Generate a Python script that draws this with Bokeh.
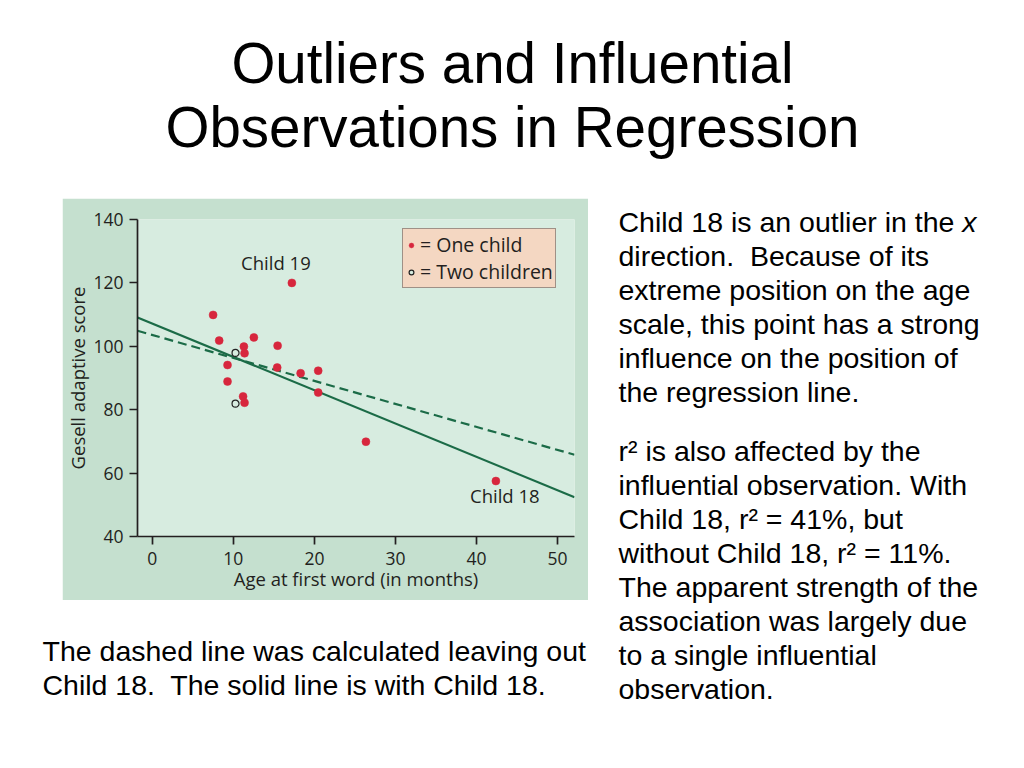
from bokeh.plotting import figure
from bokeh.models import Range1d, Legend, LegendItem, Spacer
from bokeh.layouts import column, row
from bokeh.core.properties import value
from bokeh.embed import file_html
from bokeh.resources import INLINE

# ---------------- data ----------------
ages_one = [7.5, 8.25, 9.28, 9.28, 11.3, 11.38, 11.2, 11.38, 12.53, 15.46, 15.41,
            17.22, 18.3, 20.47, 20.47, 26.36, 42.4]
scores_one = [109.9, 101.8, 94.1, 88.9, 99.9, 97.8, 84.2, 82.2, 102.8, 100.2, 93.3,
              120.0, 91.5, 92.3, 85.4, 69.9, 57.5]
ages_two = [10.27, 10.27]
scores_two = [97.9, 81.9]

line_x = [-1.83, 52.1]
solid_y = [109.1, 52.4]     # with Child 18
dashed_y = [104.9, 65.8]    # without Child 18

x_ticks = [0, 10, 20, 30, 40, 50]
y_ticks = [40, 60, 80, 100, 120, 140]

callout_x = [15.25, 43.5]
callout_y = [124.1, 50.7]
callout_text = ["Child 19", "Child 18"]

title_lines = ["Outliers and Influential", "Observations in Regression"]
right_para1 = ["Child 18 is an outlier in the ", "direction.\u00a0 Because of its",
               "extreme position on the age", "scale, this point has a strong",
               "influence on the position of", "the regression line."]
right_para2 = ["r\u00b2 is also affected by the", "influential observation. With",
               "Child 18, r\u00b2 = 41%, but", "without Child 18, r\u00b2 = 11%.",
               "The apparent strength of the", "association was largely due",
               "to a single influential", "observation."]
bottom_lines = ["The dashed line was calculated leaving out",
                "Child 18.\u00a0 The solid line is with Child 18."]

# ---------------- styles ----------------
SLIDE_FONT = "Liberation Sans"
CHART_FONT = "Open Sans"
OUTER = "#c5e0cf"
INNER = "#d7ece0"
RED = "#d7263d"
GREEN = "#1b6b47"
INK = "#231f20"
BASE_FIX = 0.4   # baseline correction (fraction of font size)


def text_fig(x0, x1, y0, y1):
    f = figure(width=int(x1 - x0), height=int(y1 - y0),
               x_range=Range1d(x0, x1), y_range=Range1d(y1, y0),
               x_axis_type=None, y_axis_type=None,
               toolbar_location=None, output_backend="svg", min_border=0)
    f.grid.visible = False
    f.outline_line_color = None
    f.background_fill_color = "white"
    f.border_fill_color = "white"
    return f


# ---- title ----
title_fig = text_fig(0, 1016, 0, 198)
title_fig.text(x=[512, 512], y=[86, 150], text=title_lines,
               text_font=value(SLIDE_FONT), text_font_size=value("56.5px"),
               text_align="center", text_baseline="alphabetic", text_color="black",
               y_offset=-BASE_FIX * 56.5)

# ---- chart ----
p = figure(width=526, height=402, x_range=Range1d(line_x[0], line_x[1]),
           y_range=Range1d(40, 140), toolbar_location=None, output_backend="svg",
           min_border_left=75, min_border_right=14, min_border_top=21,
           min_border_bottom=64)
p.grid.visible = False
p.outline_line_color = None
p.background_fill_color = INNER
p.border_fill_color = OUTER

p.line(line_x, dashed_y, line_color=GREEN, line_width=2.2, line_dash="9 5")
p.line(line_x, solid_y, line_color=GREEN, line_width=2.2)
r_one = p.scatter(ages_one, scores_one, size=8, fill_color=RED, line_color=RED,
                  line_width=0.5)
r_two = p.scatter(ages_two, scores_two, size=7, fill_color=INNER,
                  line_color="#222222", line_width=1.2)

p.text(x=callout_x, y=callout_y, text=callout_text, text_font=value(CHART_FONT),
       text_font_size=value("18.5px"), text_align="center",
       text_baseline="alphabetic", text_color=INK, y_offset=-BASE_FIX * 18.5)

for ax in (p.xaxis[0], p.yaxis[0]):
    ax.axis_line_color = INK
    ax.axis_line_width = 1.7
    ax.major_tick_line_color = INK
    ax.major_tick_line_width = 1.7
    ax.major_tick_out = 8
    ax.major_tick_in = 0
    ax.minor_tick_out = 0
    ax.minor_tick_in = 0
    ax.major_label_text_font = CHART_FONT
    ax.major_label_text_font_size = "17.5px"
    ax.major_label_text_color = INK
    ax.axis_label_text_font = CHART_FONT
    ax.axis_label_text_font_size = "18.5px"
    ax.axis_label_text_font_style = "normal"
    ax.axis_label_text_color = INK

p.xaxis.ticker = x_ticks
p.yaxis.ticker = y_ticks
p.xaxis.axis_label = "Age at first word (in months)"
p.yaxis.axis_label = "Gesell adaptive score"
p.xaxis.major_label_standoff = 7
p.xaxis.axis_label_standoff = -2
p.yaxis.major_label_standoff = 6
p.yaxis.axis_label_standoff = 0

legend = Legend(items=[LegendItem(label="= One child", renderers=[r_one]),
                       LegendItem(label="= Two children", renderers=[r_two])],
                location=(265, 248), orientation="vertical",
                padding=2, spacing=0, margin=0,
                glyph_width=12, glyph_height=20, label_height=20,
                label_standoff=3,
                label_text_font=CHART_FONT, label_text_font_size="19.5px",
                label_text_color=INK,
                border_line_color="#4a4a4a", border_line_width=1.5,
                background_fill_color="#f4d7c2", background_fill_alpha=1.0)
p.add_layout(legend)

# ---- right text ----
right_fig = text_fig(588, 1016, 198, 760)
y1 = [233 + 33.9 * i for i in range(len(right_para1))]
y2 = [462 + 34.0 * i for i in range(len(right_para2))]
right_fig.text(x=[618] * (len(right_para1) + len(right_para2)), y=y1 + y2,
               text=right_para1 + right_para2,
               text_font=value(SLIDE_FONT), text_font_size=value("28.5px"),
               text_align="left", text_baseline="alphabetic", text_color="black",
               y_offset=-BASE_FIX * 28.5)
right_fig.text(x=[961.7], y=[y1[0]], text=["x"], text_font=value(SLIDE_FONT),
               text_font_size=value("28.5px"), text_font_style="italic",
               text_align="left", text_baseline="alphabetic", text_color="black",
               y_offset=-BASE_FIX * 28.5)

# ---- bottom-left text ----
bottom_fig = text_fig(0, 588, 600, 760)
bottom_fig.text(x=[42, 42], y=[662, 696], text=bottom_lines,
                text_font=value(SLIDE_FONT), text_font_size=value("28.5px"),
                text_align="left", text_baseline="alphabetic", text_color="black",
                y_offset=-BASE_FIX * 28.5)

left_col = column(row(Spacer(width=62, height=402), p), bottom_fig)
layout = column(title_fig, row(left_col, right_fig))

open("out.html", "w").write(file_html(layout, INLINE))
